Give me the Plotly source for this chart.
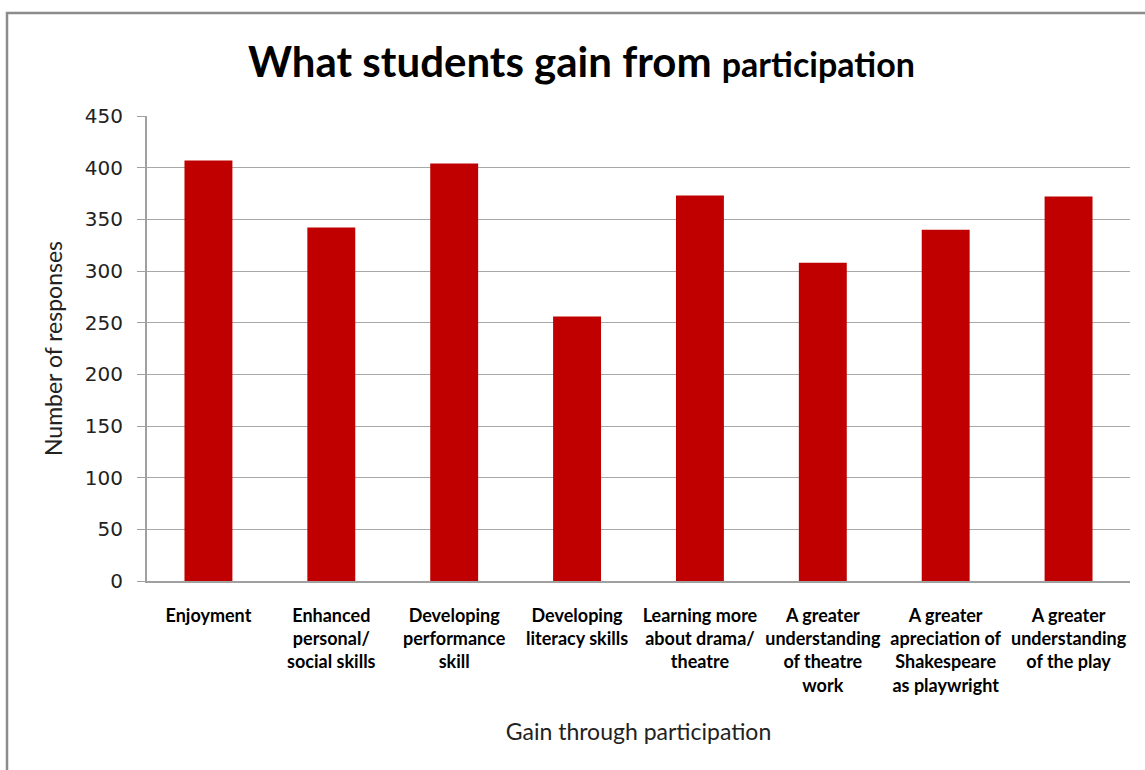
import plotly.graph_objects as go

categories = [
    "Enjoyment",
    "Enhanced<br>personal/<br>social skills",
    "Developing<br>performance<br>skill",
    "Developing<br>literacy skills",
    "Learning more<br>about drama/<br>theatre",
    "A greater<br>understanding<br>of theatre<br>work",
    "A greater<br>apreciation of<br>Shakespeare<br>as playwright",
    "A greater<br>understanding<br>of the play",
]
responses = [407, 342, 404, 256, 373, 308, 340, 372]
y_ticks = [0, 50, 100, 150, 200, 250, 300, 350, 400, 450]

L, R, T, B = 147, 15, 116, 189
W, H = 1145, 770
pw, ph = W - L - R, H - T - B

def px(x):
    return (x - L) / pw

def py(y):
    return (H - B - y) / ph

fig = go.Figure(go.Bar(
    x=categories, y=responses,
    marker=dict(color="#C00000", line=dict(width=0)),
))

fig.update_layout(
    width=W, height=H,
    margin=dict(l=L, r=R, t=T, b=B),
    paper_bgcolor="white", plot_bgcolor="white",
    bargap=0.61,
    showlegend=False,
    xaxis=dict(
        showline=True, linecolor="#A0A0A0", linewidth=2,
        showgrid=False, ticks="",
        tickfont=dict(family="Lato", size=18, color="black", weight="bold"),
        ticklabelstandoff=17,
        title=dict(text="Gain through participation",
                   font=dict(family="Lato", size=23, color="#222"),
                   standoff=29),
    ),
    yaxis=dict(
        range=[0, 450], tickvals=y_ticks,
        showline=True, linecolor="#A0A0A0", linewidth=2,
        showgrid=True, gridcolor="#A8A8A8", gridwidth=1,
        ticks="outside", ticklen=8, tickcolor="#A0A0A0", tickwidth=1,
        tickfont=dict(family="DejaVu Sans", size=20, color="#222"),
        ticklabelstandoff=10,
        zeroline=False,
        title=dict(text="Number of responses",
                   font=dict(family="Lato", size=23, color="#222"),
                   standoff=16),
    ),
    shapes=[dict(
        type="rect", xref="paper", yref="paper",
        x0=px(7), x1=px(1150), y0=py(775), y1=py(13),
        line=dict(color="#8C8C8C", width=2.5), fillcolor="rgba(0,0,0,0)",
        layer="below",
    )],
    annotations=[dict(
        xref="paper", yref="paper", x=px(581), y=py(61),
        xanchor="center", yanchor="middle", showarrow=False,
        text="<b>What students gain from <span style='font-size:34px'>participation</span></b>",
        font=dict(family="Lato", size=42, color="black"),
    )],
)

fig.write_html("out.html")
